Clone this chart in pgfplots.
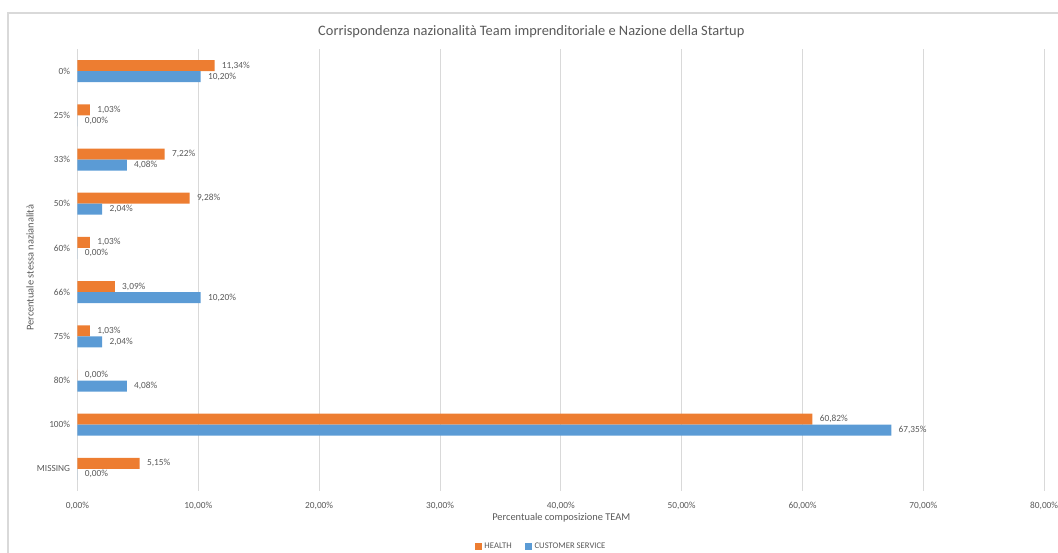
\documentclass[border=0pt]{standalone}
\usepackage{fontspec}
\setmainfont{Carlito}
\usepackage{pgfplots}
\pgfplotsset{compat=1.18}
\definecolor{cOrange}{HTML}{ED7D31}
\definecolor{cBlue}{HTML}{5B9BD5}
\definecolor{cGrid}{HTML}{D9D9D9}
\definecolor{cText}{HTML}{595959}
\begin{document}
\begin{tikzpicture}
\path[use as bounding box] (-58.125pt,-46.5pt) rectangle (735.375pt,368.25pt);
\draw[cGrid, line width=0.9pt] (-52.125pt,-46.5pt) -- (-52.125pt,358.5pt) -- (735.375pt,358.5pt);
\begin{axis}[
  at={(0pt,0pt)}, anchor=south west,
  scale only axis, width=725pt, height=331.5pt,
  xbar, bar width=8.25pt,
  xmin=0, xmax=80, ymin=-0.5, ymax=9.5,
  y dir=reverse,
  ytick={0,...,9},
  yticklabels={0\%,25\%,33\%,50\%,60\%,66\%,75\%,80\%,100\%,MISSING},
  xtick={0,10,...,80},
  xticklabel={\pgfmathprintnumber[fixed,fixed zerofill,precision=2,use comma]{\tick}\%},
  /pgf/number format/assume math mode=true,
  xmajorgrids, grid style={cGrid, line width=0.75pt},
  axis line style={draw=none},
  axis x line*=bottom, axis y line*=left,
  major tick length=0pt,
  ytick style={draw=none}, xtick style={draw=none},
  tick label style={font=\fontsize{7}{8}\selectfont, text=cText},
  xticklabel style={yshift=-5pt},
  yticklabel style={xshift=-2pt},
  xlabel={Percentuale composizione TEAM},
  xlabel style={font=\fontsize{7.8}{9}\selectfont, text=cText, at={(axis description cs:0.5005,-0.061)}, anchor=center},
  ylabel={Percentuale stessa nazianalità},
  ylabel style={font=\fontsize{7.8}{9}\selectfont, text=cText, at={(axis description cs:-0.049,0.505)}, anchor=center, rotate=0},
  every axis title shift=0pt,
  title={Corrispondenza nazionalità Team imprenditoriale e Nazione della Startup},
  title style={font=\fontsize{10.8}{12}\selectfont, text=cText, at={(axis description cs:0.4695,1.0385)}, anchor=center},
  nodes near coords={\pgfmathprintnumber[fixed,fixed zerofill,precision=2,use comma]{\pgfplotspointmeta}\%},
  nodes near coords style={font=\fontsize{7}{8}\selectfont, text=cText, anchor=west, xshift=2pt},
  legend style={draw=none, font=\fontsize{6.5}{7.5}\selectfont, text=cText, at={(axis description cs:0.48,-0.126)}, anchor=center, legend columns=2, /tikz/every even column/.append style={column sep=8pt}},
  legend image code/.code={\fill[#1, draw=none] (0pt,-2.6pt) rectangle (5.2pt,2.6pt);},
]
\addplot[fill=cOrange, draw=none, bar shift=4.125pt] coordinates {
 (11.34,0) (1.03,1) (7.22,2) (9.28,3) (1.03,4) (3.09,5) (1.03,6) (0,7) (60.82,8) (5.15,9)};
\addplot[fill=cBlue, draw=none, bar shift=-4.125pt] coordinates {
 (10.20,0) (0,1) (4.08,2) (2.04,3) (0,4) (10.20,5) (2.04,6) (4.08,7) (67.35,8) (0,9)};
\legend{HEALTH, CUSTOMER SERVICE}
\end{axis}
\end{tikzpicture}
\end{document}
